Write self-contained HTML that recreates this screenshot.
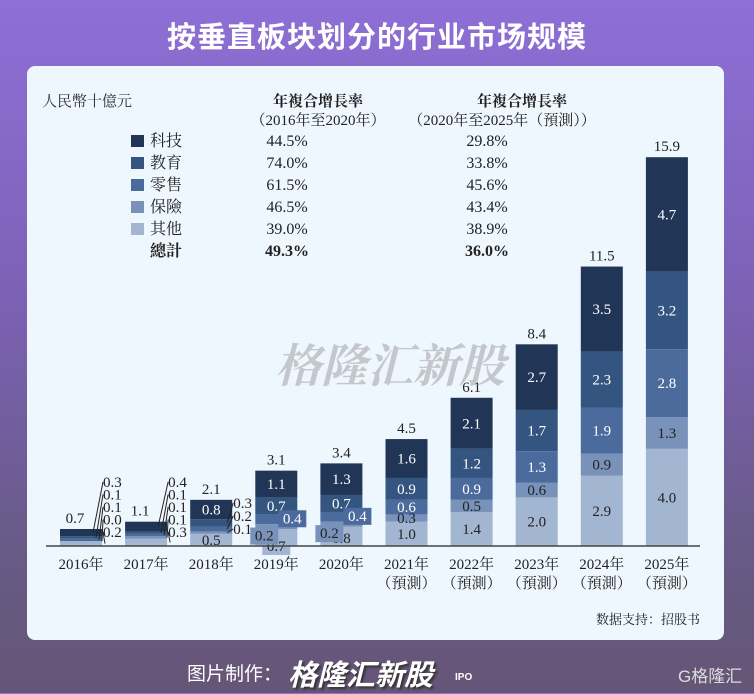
<!DOCTYPE html>
<html><head><meta charset="utf-8">
<style>
html,body{margin:0;padding:0}
body{width:754px;height:693px;overflow:hidden;position:relative;background:linear-gradient(180deg,#8e6fd6 0%,#7d62b8 40%,#685a86 80%,#655576 100%);font-family:"Liberation Serif","Noto Serif CJK SC",serif}
#title{position:absolute;left:0;top:14px;width:754px;text-align:center;color:#fff;font:bold 29px "Liberation Sans","Noto Sans CJK SC",sans-serif;letter-spacing:1px}
#panel{position:absolute;left:27px;top:66px;width:697px;height:574px;background:#eef6fe;border-radius:8px}
svg text{font-family:"Liberation Serif","Noto Serif CJK SC",serif}
#footer{position:absolute;left:0;top:650px;width:754px;height:43px;color:#fff}
</style></head><body>
<div id="title">按垂直板块划分的行业市场规模</div>
<div id="panel"></div>
<svg id="chart" width="754" height="693" style="position:absolute;left:0;top:0">
<text x="42" y="106" font-size="15" fill="#333">人民幣十億元</text>
<text x="318" y="106" font-size="15" font-weight="bold" fill="#222" text-anchor="middle" font-family="Liberation Sans,Noto Sans CJK SC,sans-serif">年複合增長率</text>
<text x="318" y="125" font-size="15" fill="#222" text-anchor="middle" font-family="Liberation Sans,Noto Sans CJK SC,sans-serif">（2016年至2020年）</text>
<text x="522" y="106" font-size="15" font-weight="bold" fill="#222" text-anchor="middle" font-family="Liberation Sans,Noto Sans CJK SC,sans-serif">年複合增長率</text>
<text x="502" y="125" font-size="15" fill="#222" text-anchor="middle" font-family="Liberation Sans,Noto Sans CJK SC,sans-serif">（2020年至2025年（預測））</text>
<g id="legend"></g>
<g id="bars"></g>
<line x1="46" y1="546" x2="700" y2="546" stroke="#444" stroke-width="1.5"/>
<g id="xlabels"></g>
<text x="390" y="382" font-size="46" font-weight="bold" font-style="italic" fill="#999" fill-opacity="0.5" text-anchor="middle" font-family="Liberation Sans,Noto Sans CJK SC,sans-serif">格隆汇新股</text>
<text x="700" y="624" font-size="13" fill="#222" text-anchor="end" font-family="Liberation Sans,Noto Sans CJK SC,sans-serif">数据支持：招股书</text>
</svg>
<div id="footer">
<span style="position:absolute;left:187px;top:9px;font:19px 'Liberation Sans','Noto Sans CJK SC',sans-serif">图片制作：</span>
<span style="position:absolute;left:288px;top:2px;font:italic bold 29px 'Liberation Sans','Noto Sans CJK SC',sans-serif;text-shadow:2px 2px 2px #333">格隆汇新股</span>
<span style="position:absolute;left:455px;top:22px;font:bold 10px 'Liberation Sans',sans-serif">IPO</span>
<span style="position:absolute;left:678px;top:12px;font:17px 'Liberation Sans','Noto Sans CJK SC',sans-serif;color:#ddd">G格隆汇</span>
</div>
<script>
const years=["2016年","2017年","2018年","2019年","2020年","2021年","2022年","2023年","2024年","2025年"];
const forecast=[false,false,false,false,false,true,true,true,true,true];
const other=[0.2,0.3,0.5,0.7,0.8,1.0,1.4,2.0,2.9,4.0];
const insurance=[0.0,0.1,0.1,0.2,0.2,0.3,0.5,0.6,0.9,1.3];
const retail=[0.1,0.1,0.2,0.4,0.4,0.6,0.9,1.3,1.9,2.8];
const education=[0.1,0.1,0.3,0.7,0.7,0.9,1.2,1.7,2.3,3.2];
const tech=[0.3,0.4,0.8,1.1,1.3,1.6,2.1,2.7,3.5,4.7];
const totals=[0.7,1.1,2.1,3.1,3.4,4.5,6.1,8.4,11.5,15.9];
const seriesNames=["科技","教育","零售","保險","其他"];
const cagr1=["44.5%","74.0%","61.5%","46.5%","39.0%","49.3%"];
const cagr2=["29.8%","33.8%","45.6%","43.4%","38.9%","36.0%"];

const NS="http://www.w3.org/2000/svg";
const colors=["#213656","#34557f","#4b6b9d","#7892b9","#a2b5d1"];
const textCol=["#fff","#fff","#fff","#222","#222"];
const base=546, k=24.3, bw=42, fs=15;
const xc=i=>81+i*65.1;
const y=v=>base-v*k;
function mk(tag,attrs,parent){const e=document.createElementNS(NS,tag);for(const a in attrs)e.setAttribute(a,attrs[a]);parent.appendChild(e);return e;}

const lg=document.getElementById('legend');
seriesNames.forEach((n,i)=>{
  const yy=146+i*22;
  const r=mk('rect',{x:131,y:yy-11,width:13,height:12,fill:colors[i]},lg);
  
  
  const t=mk('text',{x:150,y:yy,'font-size':16,fill:'#222'},lg);t.textContent=n;
  
  
});
const tt=mk('text',{x:150,y:146+5*22,'font-size':16,'font-weight':'bold',fill:'#222'},lg);tt.textContent="總計";


for(let i=0;i<6;i++){
  const yy=146+i*22, b=i==5?'bold':'normal';
  const a=mk('text',{x:287,y:yy,'font-size':16,'font-weight':b,fill:'#222','text-anchor':'middle'},lg);a.textContent=cagr1[i];
  
  
  const c=mk('text',{x:487,y:yy,'font-size':16,'font-weight':b,fill:'#222','text-anchor':'middle'},lg);c.textContent=cagr2[i];
  
  
}

const g=document.getElementById('bars');
const stackOrder=[other,insurance,retail,education,tech];
const colIdx=[4,3,2,1,0];
years.forEach((yr,i)=>{
  let cum=0;
  const segs=[];
  stackOrder.forEach((s,j)=>{
    const v=s[i];
    const r=mk('rect',{x:xc(i)-bw/2,y:y(cum+v),width:bw,height:v*k,fill:colors[colIdx[j]]},g);
    
    
    segs.push({v:v,mid:y(cum+v/2),c:colIdx[j]});
    cum+=v;
  });
  const tl=mk('text',{x:xc(i),y:y(cum)-6,'font-size':fs,fill:'#222','text-anchor':'middle'},g);
  tl.textContent=totals[i].toFixed(1);
  if(i<2){tl.setAttribute('x',xc(i)-6);}
  
  
  if(i<3){
    const order=[4,3,2,1,0];
    order.forEach((j,idx)=>{
      const s=segs[j];
      if(i==2 && (j==0||j==4)){
        const t=mk('text',{x:xc(i),y:s.mid+5,'font-size':fs,fill:textCol[s.c],'text-anchor':'middle'},g);
        t.textContent=s.v.toFixed(1);
        
        
        return;
      }
      const ly = i==2 ? 508+(3-j)*13 : 487+idx*12.5;
      const lx = i==2 ? xc(i)+22 : xc(i)+22;
      mk('line',{x1:xc(i)+(i==2?16:12+idx*3),y1:s.mid,x2:lx,y2:ly-5,stroke:'#222','stroke-width':1},g);
      const t=mk('text',{x:lx,y:ly,'font-size':fs,fill:'#222'},g);
      t.textContent=s.v.toFixed(1);
      
      
    });
  } else if(i<5){
    [3,4].forEach(j=>{
      const s=segs[j];
      const t=mk('text',{x:xc(i),y:s.mid+5,'font-size':fs,fill:textCol[s.c],'text-anchor':'middle'},g);
      t.textContent=s.v.toFixed(1);
      
      
    });
    {
      const s=segs[0];
      const oy=i==3?551:543;
      if(i==3) mk('rect',{x:xc(i)-14,y:oy-13,width:28,height:17,fill:colors[4]},g);
      const t=mk('text',{x:xc(i),y:oy,'font-size':fs,fill:'#222','text-anchor':'middle'},g);
      t.textContent=s.v.toFixed(1);
      
      
    }
    [[1,-12,10],[2,16,0]].forEach(([j,dx,dy])=>{
      const s=segs[j];
      const bx=xc(i)+dx-14, by=s.mid-9+dy;
      mk('rect',{x:bx,y:by,width:28,height:17,fill:colors[s.c]},g);
      const t=mk('text',{x:bx+14,y:by+13,'font-size':fs,fill:j==1?'#222':'#fff','text-anchor':'middle'},g);
      t.textContent=s.v.toFixed(1);
      
      
    });
  } else {
    segs.forEach(s=>{
      const t=mk('text',{x:xc(i),y:s.mid+5,'font-size':fs,fill:textCol[s.c],'text-anchor':'middle'},g);
      t.textContent=s.v.toFixed(1);
      
      
    });
  }
});

const xl=document.getElementById('xlabels');
years.forEach((yr,i)=>{
  const t=mk('text',{x:xc(i),y:569,'font-size':fs,fill:'#222','text-anchor':'middle'},xl);
  t.textContent=yr;
  
  
  if(forecast[i]){
    const f=mk('text',{x:xc(i),y:588,'font-size':fs,fill:'#222','text-anchor':'middle'},xl);
    f.textContent="（預測）";
    
    
  }
});
</script>
</body></html>
